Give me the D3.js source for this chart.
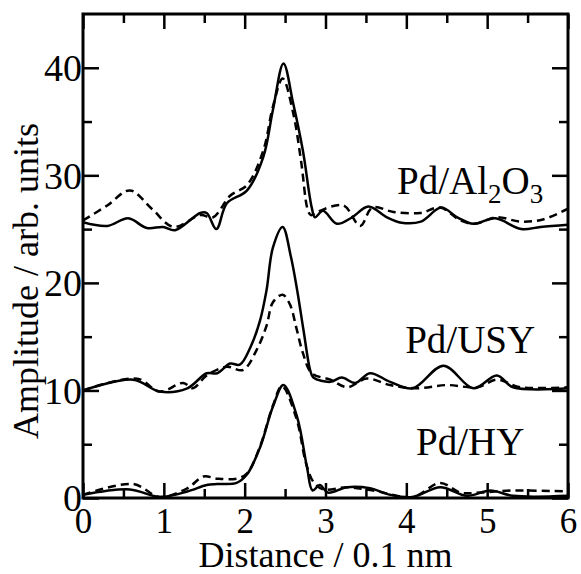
<!DOCTYPE html>
<head>
  <meta charset="utf-8" />
  <title>RDF amplitude</title>
  <script src="https://d3js.org/d3.v7.min.js"></script>
  <style>
    body { margin: 0; background: #fff; }
    text { font-family: "Liberation Serif", "Times New Roman", serif; fill: #000; }
  </style>
</head>
<body>
<script>
  // Distance (0.1 nm) / amplitude pairs
  const al2o3Solid = [
    [0, 25.65], [0.3, 25.3], [0.56, 26.0], [0.79, 25.1], [0.99, 25.2], [1.14, 24.9],
    [1.45, 26.5], [1.53, 26.5], [1.65, 25.0], [1.78, 27.4], [2.03, 28.6], [2.23, 31.7],
    [2.35, 36.1], [2.48, 40.4], [2.6, 36.7], [2.72, 32.3], [2.83, 27.0], [2.87, 26.1],
    [2.97, 26.7], [3.14, 25.5], [3.33, 26.1], [3.53, 27.1], [3.76, 26.1], [3.94, 25.6],
    [4.18, 25.7], [4.43, 27.0], [4.63, 26.1], [4.83, 25.5], [5.1, 26.0], [5.42, 25.0],
    [5.66, 25.2], [6.0, 25.4]
  ];
  const al2o3Dashed = [
    [0, 25.8], [0.3, 27.2], [0.58, 28.6], [0.85, 26.9], [1.12, 25.2], [1.45, 26.3],
    [1.61, 26.1], [1.82, 28.1], [2.03, 29.1], [2.23, 32.3], [2.35, 36.4], [2.47, 39.0],
    [2.6, 35.8], [2.7, 31.2], [2.78, 26.8], [2.82, 26.3], [2.9, 26.6], [3.22, 27.2],
    [3.43, 25.3], [3.58, 27.0], [3.84, 26.6], [4.17, 26.5], [4.42, 27.0], [4.67, 25.8],
    [4.85, 25.5], [5.12, 26.1], [5.41, 25.7], [5.69, 25.9], [6.0, 26.9]
  ];
  const usySolid = [
    [0, 10.0], [0.62, 11.0], [0.95, 9.9], [1.29, 10.2], [1.53, 11.6], [1.66, 11.6],
    [1.82, 12.5], [1.94, 12.4], [2.07, 14.0], [2.19, 16.5], [2.27, 19.3], [2.35, 23.3],
    [2.47, 25.2], [2.57, 22.5], [2.65, 19.3], [2.73, 15.5], [2.81, 11.9], [2.85, 11.2],
    [3.06, 10.8], [3.2, 11.2], [3.37, 10.7], [3.55, 11.6], [3.8, 10.8], [4.08, 10.2],
    [4.46, 12.3], [4.83, 10.2], [5.12, 11.4], [5.32, 10.3], [6.0, 10.2]
  ];
  const usyDashed = [
    [0, 10.0], [0.67, 11.1], [0.95, 9.9], [1.24, 10.7], [1.36, 10.2], [1.53, 11.4],
    [1.78, 12.2], [1.98, 11.9], [2.15, 13.8], [2.27, 16.0], [2.35, 18.2], [2.47, 18.9],
    [2.56, 18.0], [2.64, 15.8], [2.72, 13.5], [2.83, 11.6], [3.06, 11.0], [3.27, 10.3],
    [3.51, 11.1], [3.8, 10.5], [4.13, 10.2], [4.5, 10.5], [4.88, 10.3], [5.12, 11.0],
    [5.41, 10.3], [6.0, 10.3]
  ];
  const hySolid = [
    [0, 0.3], [0.58, 0.8], [0.95, 0.1], [1.29, 0.6], [1.53, 1.2], [1.66, 1.3],
    [1.9, 1.4], [2.03, 2.2], [2.19, 4.7], [2.35, 8.5], [2.48, 10.5], [2.65, 7.5],
    [2.77, 2.9], [2.84, 0.7], [2.93, 1.2], [3.03, 0.5], [3.27, 1.0], [3.55, 0.9],
    [3.8, 0.3], [4.08, 0.1], [4.42, 1.0], [4.75, 0.2], [5.04, 0.7], [5.32, 0.2], [6.0, 0.2]
  ];
  const hyDashed = [
    [0, 0.3], [0.62, 1.3], [0.95, 0.1], [1.29, 0.9], [1.49, 2.0], [1.66, 1.8],
    [1.9, 1.8], [2.03, 2.3], [2.19, 4.8], [2.35, 8.6], [2.46, 10.4], [2.64, 7.4],
    [2.76, 3.2], [2.85, 1.5], [2.97, 0.8], [3.27, 1.0], [3.59, 0.7], [4.08, 0.1],
    [4.42, 1.4], [4.67, 0.5], [4.91, 0.5], [5.32, 0.7], [6.0, 0.6]
  ];

  const sampleLabels = [
    { parts: [["Pd/Al", 0], ["2", 1], ["O", 0], ["3", 1]], x: 4.79, y: 28.3 },
    { parts: [["Pd/USY", 0]], x: 4.79, y: 13.5 },
    { parts: [["Pd/HY", 0]], x: 4.79, y: 4.0 }
  ];

  const xMajor = [0, 1, 2, 3, 4, 5, 6];
  const xMinor = [0.5, 1.5, 2.5, 3.5, 4.5, 5.5];
  const yMajor = [0, 10, 20, 30, 40];
  const yMinor = [5, 15, 25, 35];

  const width = 581, height = 574;
  const margin = { top: 14, right: 13, bottom: 76, left: 83 };
  const iw = width - margin.left - margin.right;
  const ih = height - margin.top - margin.bottom;

  const x = d3.scaleLinear().domain([0, 6]).range([0, iw]);
  const y = d3.scaleLinear().domain([0, 45]).range([ih, 0]);

  const svg = d3.select("body").append("svg")
    .attr("width", width)
    .attr("height", height);

  svg.append("defs").append("clipPath").attr("id", "clip")
    .append("rect").attr("width", iw).attr("height", ih);

  const g = svg.append("g")
    .attr("transform", `translate(${margin.left},${margin.top})`);

  const line = d3.line()
    .x((d) => x(d[0]))
    .y((d) => y(d[1]))
    .curve(d3.curveCatmullRom.alpha(0.5));

  const curves = g.append("g").attr("clip-path", "url(#clip)");
  [[al2o3Solid, null], [al2o3Dashed, "8,5"], [usySolid, null], [usyDashed, "8,5"],
   [hySolid, null], [hyDashed, "8,5"]].forEach(([data, dash]) => {
    curves.append("path")
      .datum(data)
      .attr("d", line)
      .attr("fill", "none")
      .attr("stroke", "#000")
      .attr("stroke-width", 2.5)
      .attr("stroke-dasharray", dash);
  });

  // ticks point inward on all four sides
  function addAxis(axis, ticks, size, labels, transform) {
    const a = g.append("g")
      .attr("transform", transform)
      .call(axis.tickValues(ticks).tickSizeInner(-size).tickSizeOuter(0)
        .tickFormat(labels ? d3.format("d") : () => ""));
    a.select(".domain").remove();
    a.selectAll("line").attr("stroke", "#000").attr("stroke-width", 2.5);
    a.selectAll("text").style("font-family", null);
    return a;
  }

  const xb = addAxis(d3.axisBottom(x), xMajor, 15, true, `translate(0,${ih})`);
  xb.selectAll("text").style("font-size", "35px").attr("y", 35).attr("dy", 0);
  addAxis(d3.axisBottom(x), xMinor, 9, false, `translate(0,${ih})`);
  addAxis(d3.axisTop(x), xMajor, 15, false, "translate(0,0)");
  addAxis(d3.axisTop(x), xMinor, 9, false, "translate(0,0)");

  const yl = addAxis(d3.axisLeft(y), yMajor, 16, true, "translate(0,0)");
  yl.selectAll("text").style("font-size", "38px").attr("x", -1).attr("dy", "0.34em");
  addAxis(d3.axisLeft(y), yMinor, 9, false, "translate(0,0)");
  addAxis(d3.axisRight(y), yMajor, 16, false, `translate(${iw},0)`);
  addAxis(d3.axisRight(y), yMinor, 9, false, `translate(${iw},0)`);

  g.append("rect")
    .attr("width", iw).attr("height", ih)
    .attr("fill", "none").attr("stroke", "#000").attr("stroke-width", 3);

  // sample names
  sampleLabels.forEach((lab) => {
    const t = g.append("text")
      .attr("x", x(lab.x)).attr("y", y(lab.y))
      .attr("text-anchor", "middle")
      .style("font-size", "39px");
    lab.parts.forEach(([s, sub], i) => {
      t.append("tspan")
        .attr("dy", sub ? 9 : (i > 0 ? -9 : 0))
        .style("font-size", sub ? "27px" : "39px")
        .text(s);
    });
  });

  svg.append("text")
    .attr("x", margin.left + iw / 2)
    .attr("y", 567)
    .attr("text-anchor", "middle")
    .style("font-size", "36px")
    .text("Distance / 0.1 nm");

  svg.append("text")
    .attr("transform", `translate(38,281) rotate(-90)`)
    .attr("text-anchor", "middle")
    .style("font-size", "36px")
    .text("Amplitude / arb. units");
</script>
</body>
